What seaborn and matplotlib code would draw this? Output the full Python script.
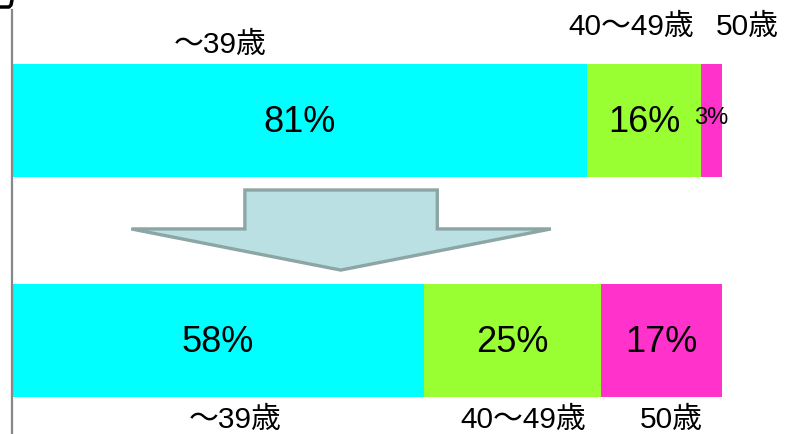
import numpy as np
import pandas as pd
import seaborn as sns
import matplotlib.pyplot as plt
from matplotlib.patches import Polygon
from matplotlib.lines import Line2D

# Data
periods = ["before", "after"]
age_groups = ["～39歳", "40～49歳", "50歳"]
share_young = [81, 58]
share_mid = [16, 25]
share_old = [3, 17]
colors = ["#00FFFF", "#99FF33", "#FF33CC"]

df = pd.DataFrame({"period": periods, "young": share_young,
                   "mid": share_mid, "old": share_old})
df["cum_mid"] = df["young"] + df["mid"]
df["cum_old"] = df["cum_mid"] + df["old"]

sns.set_style("white")
plt.rcParams["font.family"] = ["Liberation Sans", "Noto Sans CJK JP", "DejaVu Sans"]
plt.rcParams["text.color"] = "black"

fig = plt.figure(figsize=(7.85, 4.34), dpi=100)
ax = fig.add_axes([12 / 785, 0, 710 / 785, 424 / 434])

bar_h = 113 / 220
# stacked bars drawn back to front
for col, c in zip(["cum_old", "cum_mid", "young"], colors[::-1]):
    sns.barplot(data=df, x=col, y="period", color=c, width=bar_h,
                saturation=1, linewidth=0, edgecolor="none", ax=ax)

ax.set_xlim(0, 100)
ax.set_ylim(1.425, -0.502)
ax.set_xlabel("")
ax.set_ylabel("")
ax.set_xticks([])
ax.set_yticks([])
for s in ["top", "right", "bottom"]:
    ax.spines[s].set_visible(False)
ax.spines["left"].set_color("#888888")
ax.spines["left"].set_linewidth(1.6)

# percentage labels inside bars
for i, row in df.iterrows():
    ax.text(row["young"] / 2, i + 0.01, f"{row['young']}%", ha="center", va="center", fontsize=26)
    ax.text(row["young"] + row["mid"] / 2, i + 0.01, f"{row['mid']}%", ha="center",
            va="center", fontsize=26)
    small = row["old"] < 5
    ax.text(row["cum_mid"] + row["old"] / 2, i + (-0.01 if small else 0.01), f"{row['old']}%",
            ha="center", va="center", fontsize=17 if small else 26)

# age group labels
ax.text(29.3, -0.343, age_groups[0], ha="center", va="center", fontsize=21.5)
ax.text(87.2, -0.425, age_groups[1], ha="center", va="center", fontsize=21.5)
ax.text(103.5, -0.425, age_groups[2], ha="center", va="center", fontsize=21.5)
ax.text(31.4, 1.362, age_groups[0], ha="center", va="center", fontsize=21.5)
ax.text(72.0, 1.362, age_groups[1], ha="center", va="center", fontsize=21.5)
ax.text(92.8, 1.362, age_groups[2], ha="center", va="center", fontsize=21.5)

# down arrow between the bars
arrow = Polygon([(32.8, 0.316), (59.9, 0.316), (59.9, 0.493), (75.9, 0.493),
                 (46.3, 0.680), (16.8, 0.493), (32.8, 0.493)],
                closed=True, facecolor="#BBE0E3", edgecolor="#8CA5A5",
                linewidth=2.4, joinstyle="miter", clip_on=False)
ax.add_patch(arrow)

# small corner hook at top-left
fig.add_artist(Line2D([0, 9 / 785, 11 / 785, 12 / 785],
                      [1 - 7 / 434, 1 - 7 / 434, 1 - 5 / 434, 1],
                      color="black", linewidth=2.5))

fig.savefig("out.png", dpi=100)
